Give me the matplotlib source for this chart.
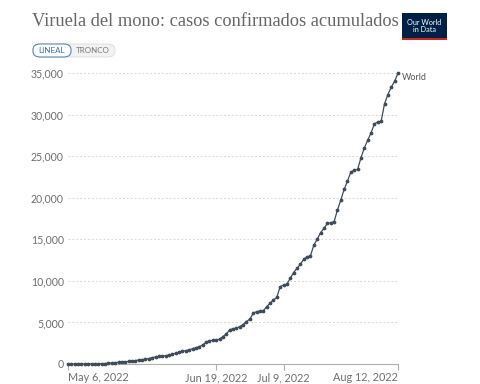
import datetime as dt

import matplotlib.pyplot as plt
from matplotlib.patches import FancyBboxPatch, Rectangle

# daily cumulative confirmed cases, World, from May 6, 2022
start = dt.date(2022, 5, 6)
cases = [
    1, 1, 1, 2, 2, 5, 9, 9, 12, 20,
    48, 60, 95, 140, 160, 200, 240, 270, 310, 360,
    410, 480, 530, 560, 660, 760, 850, 910, 920, 1000,
    1080, 1170, 1300, 1400, 1550, 1600, 1700, 1850, 1950, 2100,
    2300, 2600, 2800, 2850, 2870, 3000, 3300, 3600, 4100, 4250,
    4300, 4500, 4750, 5100, 5400, 6100, 6300, 6350, 6400, 6900,
    7300, 7700, 8000, 9300, 9500, 9600, 10300, 11000, 11500, 12000,
    12600, 12900, 13000, 14300, 15000, 15800, 16300, 16900, 17000, 17100,
    18500, 19700, 21000, 22000, 23100, 23300, 23400, 24800, 26000, 26900,
    27800, 28900, 29100, 29200, 31300, 32400, 33300, 34000, 35000,
]
dates = [start + dt.timedelta(days=i) for i in range(len(cases))]

y_ticks = [0, 5000, 10000, 15000, 20000, 25000, 30000, 35000]
x_ticks = [dt.date(2022, 5, 6), dt.date(2022, 6, 19), dt.date(2022, 7, 9), dt.date(2022, 8, 12)]
x_labels = ["May 6, 2022", "Jun 19, 2022", "Jul 9, 2022", "Aug 12, 2022"]

title = "Viruela del mono: casos confirmados acumulados"
series_name = "World"

fig = plt.figure(figsize=(4.8, 3.84), dpi=100)
ax = fig.add_axes([68 / 480, 1 - 364 / 384, 330 / 480, 291 / 384])

line_col = "#3f4b5b"
ax.plot(dates, cases, color=line_col, lw=0.9, marker="o", ms=1.7, clip_on=False, zorder=3)

ax.set_xlim(dates[0], dates[-1])
ax.set_ylim(0, 35000)

for s in ["top", "right", "left"]:
    ax.spines[s].set_visible(False)
ax.spines["bottom"].set_color("#b0b0b0")
ax.spines["bottom"].set_linewidth(0.8)

ax.set_yticks(y_ticks)
ax.set_yticklabels([f"{v:,}" for v in y_ticks])
ax.tick_params(axis="y", length=0, pad=3, labelsize=7.6, labelcolor="#6e6e6e")
ax.yaxis.grid(True, color="#d8d8d8", ls=(0, (2, 2)), lw=0.7)
ax.set_axisbelow(True)

ax.set_xticks(x_ticks)
ax.set_xticklabels(x_labels)
ax.tick_params(axis="x", length=4, width=0.8, color="#b0b0b0", pad=2, labelsize=7.8, labelcolor="#6e6e6e")
ticklabels = ax.get_xticklabels()
ticklabels[0].set_ha("left")
ticklabels[-1].set_ha("right")
for lab in ax.get_xticklabels() + ax.get_yticklabels():
    lab.set_family("Lato")

ax.text(dates[-1] + dt.timedelta(days=1), cases[-1], series_name, fontsize=6.5, color="#555555",
        family="Lato", va="top", ha="left")

# title
fig.text(32 / 480, 1 - 22 / 384, title, fontsize=13.2, family="Liberation Serif",
         color="#666666", va="center", ha="left")

# logo
fig.patches.append(Rectangle((402 / 480, 1 - 40 / 384), 45 / 480, 27 / 384, transform=fig.transFigure,
                             facecolor="#002147", edgecolor="none"))
fig.patches.append(Rectangle((402 / 480, 1 - 40 / 384), 45 / 480, 2.5 / 384, transform=fig.transFigure,
                             facecolor="#ce261e", edgecolor="none"))
fig.text(424.5 / 480, 1 - 26 / 384, "Our World\nin Data", fontsize=5.2, color="white", family="Lato",
         ha="center", va="center", linespacing=1.0)

# lineal / tronco buttons
fig.patches.append(FancyBboxPatch((33 / 480, 1 - 57 / 384), 82 / 480, 13 / 384, transform=fig.transFigure,
                                  boxstyle="round,pad=0,rounding_size=0.015", facecolor="#f2f2f2",
                                  edgecolor="#dddddd", lw=0.6))
fig.patches.append(FancyBboxPatch((33 / 480, 1 - 57 / 384), 38 / 480, 13 / 384, transform=fig.transFigure,
                                  boxstyle="round,pad=0,rounding_size=0.015", facecolor="white",
                                  edgecolor="#5b87b5", lw=0.8))
fig.text(52 / 480, 1 - 50.5 / 384, "LINEAL", fontsize=5.8, color="#3c6ea0", family="Lato", ha="center", va="center")
fig.text(93 / 480, 1 - 50.5 / 384, "TRONCO", fontsize=5.8, color="#777777", family="Lato", ha="center", va="center")

fig.savefig("out.png", dpi=100, facecolor="white")
